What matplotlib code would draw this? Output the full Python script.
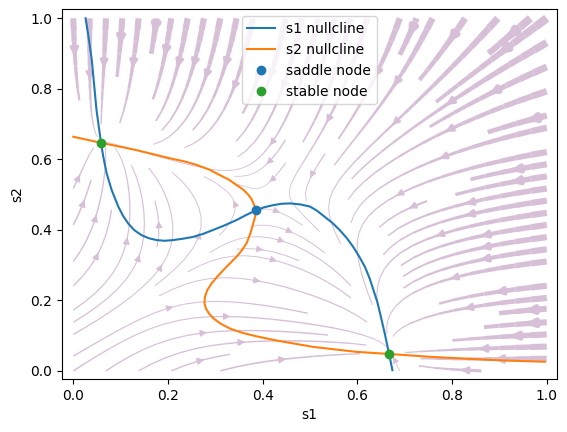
import numpy as np
import matplotlib.pyplot as plt

# reduced two-population model (Wong & Wang style), used for the flow field
a, b, d = 270.0, 108.0, 0.154
gamma = 0.641
tau_s = 0.1
J11, J12 = 0.2609, 0.0497
I_in1 = 0.3449
I_in2 = 0.3400

# nullclines
s1_null_x = [0.026, 0.033, 0.039, 0.049, 0.0585, 0.0634, 0.0705, 0.081, 0.095,
             0.105, 0.116, 0.129, 0.144, 0.160, 0.176, 0.193, 0.211, 0.232,
             0.253, 0.275, 0.296, 0.320, 0.345, 0.365, 0.385, 0.403, 0.422,
             0.440, 0.458, 0.480, 0.500, 0.515, 0.530, 0.547, 0.563, 0.578,
             0.591, 0.604, 0.616, 0.626, 0.634, 0.642, 0.648, 0.658, 0.667,
             0.674]
s1_null_y = [1.0, 0.94, 0.882, 0.740, 0.647, 0.607, 0.560, 0.513, 0.466,
             0.440, 0.418, 0.399, 0.385, 0.376, 0.371, 0.369, 0.371, 0.375,
             0.380, 0.389, 0.400, 0.413, 0.428, 0.442, 0.455, 0.464, 0.470,
             0.474, 0.475, 0.472, 0.466, 0.454, 0.438, 0.420, 0.399, 0.376,
             0.352, 0.324, 0.295, 0.262, 0.229, 0.196, 0.163, 0.105, 0.048,
             0.002]

s2_null_x = [0.0, 0.0585, 0.134, 0.204, 0.235, 0.261, 0.287, 0.310, 0.329,
             0.345, 0.359, 0.370, 0.377, 0.382, 0.385, 0.384, 0.380, 0.374,
             0.366, 0.356, 0.345, 0.331, 0.317, 0.304, 0.292, 0.283, 0.278,
             0.277, 0.280, 0.287, 0.296, 0.311, 0.331, 0.357, 0.387, 0.430,
             0.507, 0.598, 0.667, 0.753, 0.824, 0.900, 0.996]
s2_null_y = [0.664, 0.647, 0.626, 0.603, 0.594, 0.584, 0.571, 0.555, 0.542,
             0.527, 0.514, 0.499, 0.486, 0.470, 0.455, 0.437, 0.418, 0.390,
             0.362, 0.342, 0.324, 0.305, 0.286, 0.267, 0.248, 0.229, 0.210,
             0.193, 0.177, 0.162, 0.149, 0.134, 0.120, 0.108, 0.098, 0.086,
             0.068, 0.054, 0.048, 0.040, 0.035, 0.030, 0.026]

saddle_s1 = [0.385]
saddle_s2 = [0.455]
stable_s1 = [0.0585, 0.667]
stable_s2 = [0.647, 0.048]


def H(x):
    y = a * x - b
    return y / (1 - np.exp(-d * y))


s = np.linspace(0, 1, 100)
S1, S2 = np.meshgrid(s, s)
x1 = J11 * S1 - J12 * S2 + I_in1
x2 = J11 * S2 - J12 * S1 + I_in2
dS1 = -S1 / tau_s + (1 - S1) * gamma * H(x1)
dS2 = -S2 / tau_s + (1 - S2) * gamma * H(x2)
speed = np.sqrt(dS1**2 + dS2**2)
lw = 0.5 + 5.5 * speed / speed.max()

fig = plt.figure(figsize=(5.67, 4.32), dpi=100)
ax = fig.add_axes([61.7 / 567, 53 / 432, 495 / 567, 369.7 / 432])

ax.streamplot(S1, S2, dS1, dS2, color='thistle', linewidth=lw, density=1)
ax.plot(s1_null_x, s1_null_y, label='s1 nullcline')
ax.plot(s2_null_x, s2_null_y, label='s2 nullcline')
ax.plot(saddle_s1, saddle_s2, 'o', color='C0', label='saddle node')
ax.plot(stable_s1, stable_s2, 'o', color='C2', label='stable node')

ax.set_xlim(-0.0245, 1.021)
ax.set_ylim(-0.023, 1.0255)
ax.set_xlabel('s1')
ax.set_ylabel('s2')
ax.legend(loc='upper center')

fig.savefig('out.png', dpi=100)
